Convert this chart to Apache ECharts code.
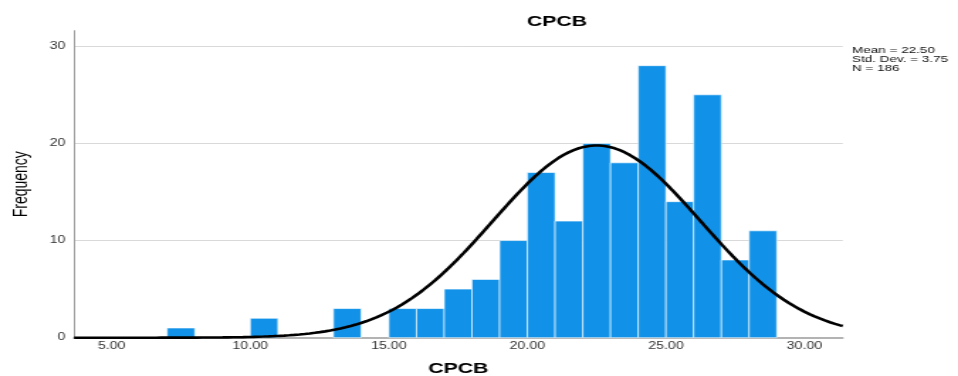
<!DOCTYPE html>
<html>
<head>
<meta charset="utf-8">
<script src="https://cdn.jsdelivr.net/npm/echarts@6/dist/echarts.min.js"></script>
<style>
  html, body { margin: 0; padding: 0; background: #fff; overflow: hidden; }
  /* the chart is laid out narrow and widened horizontally, as exported */
  #chart { width: 675px; height: 376px; transform: scaleX(1.4193); transform-origin: 0 0; }
</style>
</head>
<body>
<div id="chart"></div>
<script>
// Histogram of CPCB: bins of width 1, starting at each value below
const binStarts = [7, 10, 13, 15, 16, 17, 18, 19, 20, 21, 22, 23, 24, 25, 26, 27, 28];
const binCounts = [1, 2, 3, 3, 3, 5, 6, 10, 17, 12, 20, 18, 28, 14, 25, 8, 11];
const binWidth = 1;

// Summary statistics shown beside the plot
const mean = 22.50;
const stdDev = 3.75;
const n = 186;

// Axis ranges and labels
const xMin = 3.64, xMax = 31.38;
const xTickValues = [5, 10, 15, 20, 25, 30];
const yMax = 31.6;
const yTickStep = 10;

const S = 1.4193; // horizontal widening of the layout

const bars = binStarts.map((s, i) => [s, s + binWidth, binCounts[i]]);

// Fitted normal curve, scaled to counts per bin
const normalCurve = [];
const steps = 300;
for (let i = 0; i <= steps; i++) {
  const x = xMin + (xMax - xMin) * i / steps;
  const z = (x - mean) / stdDev;
  const y = n * binWidth * Math.exp(-0.5 * z * z) / (stdDev * Math.sqrt(2 * Math.PI));
  normalCurve.push([x, y]);
}

const font = "'Liberation Sans', Arial, sans-serif";
const chart = echarts.init(document.getElementById('chart'));

chart.setOption({
  animation: false,
  backgroundColor: '#ffffff',
  title: [
    {
      text: 'CPCB',
      left: 557 / S,
      top: 14,
      textAlign: 'center',
      padding: 0,
      textStyle: { fontFamily: font, fontSize: 15, fontWeight: 'bold', color: '#000' }
    },
    {
      text: 'Mean = ' + mean.toFixed(2) + '\nStd. Dev. = ' + stdDev.toFixed(2) + '\nN = ' + n,
      left: 852 / S,
      top: 45.5,
      padding: 0,
      textStyle: { fontFamily: font, fontSize: 9.5, fontWeight: 'normal', color: '#111', lineHeight: 9 }
    }
  ],
  grid: {
    left: 74 / S,
    right: (958 - 842.7) / S,
    top: 30.7,
    bottom: 376 - 337.7,
    containLabel: false,
    outerBoundsMode: 'none'
  },
  xAxis: {
    type: 'value',
    min: xMin,
    max: xMax,
    name: 'CPCB',
    nameLocation: 'middle',
    nameGap: 24,
    nameTextStyle: { fontFamily: font, fontSize: 15, fontWeight: 'bold', color: '#000' },
    axisLine: { show: true, lineStyle: { color: '#9a9a9a', width: 1.5 } },
    axisTick: { show: false },
    splitLine: { show: false },
    axisLabel: {
      customValues: xTickValues,
      formatter: v => v.toFixed(2),
      margin: 4,
      fontFamily: font,
      fontSize: 10,
      color: '#333'
    }
  },
  yAxis: {
    type: 'value',
    min: 0,
    max: yMax,
    interval: yTickStep,
    name: 'Frequency',
    nameLocation: 'middle',
    nameGap: 30,
    nameTextStyle: { fontFamily: "'Liberation Sans Narrow', 'Liberation Sans', Arial, sans-serif", fontSize: 14, color: '#000' },
    axisLine: { show: true, lineStyle: { color: '#9a9a9a', width: 1 } },
    axisTick: { show: false },
    splitLine: { show: true, showMaxLine: false, showMinLine: false, lineStyle: { color: '#d9d9d9', width: 1 } },
    axisLabel: {
      showMaxLabel: false,
      margin: 6,
      fontFamily: font,
      fontSize: 10,
      color: '#333'
    }
  },
  series: [
    {
      type: 'custom',
      data: bars,
      encode: { x: [0, 1], y: 2 },
      z: 2,
      renderItem: function (params, api) {
        const p0 = api.coord([api.value(0), api.value(2)]);
        const p1 = api.coord([api.value(1), 0]);
        return {
          type: 'rect',
          shape: { x: p0[0], y: p0[1], width: p1[0] - p0[0], height: p1[1] - p0[1] },
          style: { fill: '#1192e8', stroke: 'rgba(255,255,255,0.6)', lineWidth: 1 }
        };
      }
    },
    {
      type: 'line',
      data: normalCurve,
      showSymbol: false,
      smooth: false,
      z: 5,
      lineStyle: { color: '#000', width: 2.6 }
    }
  ]
});
</script>
</body>
</html>
